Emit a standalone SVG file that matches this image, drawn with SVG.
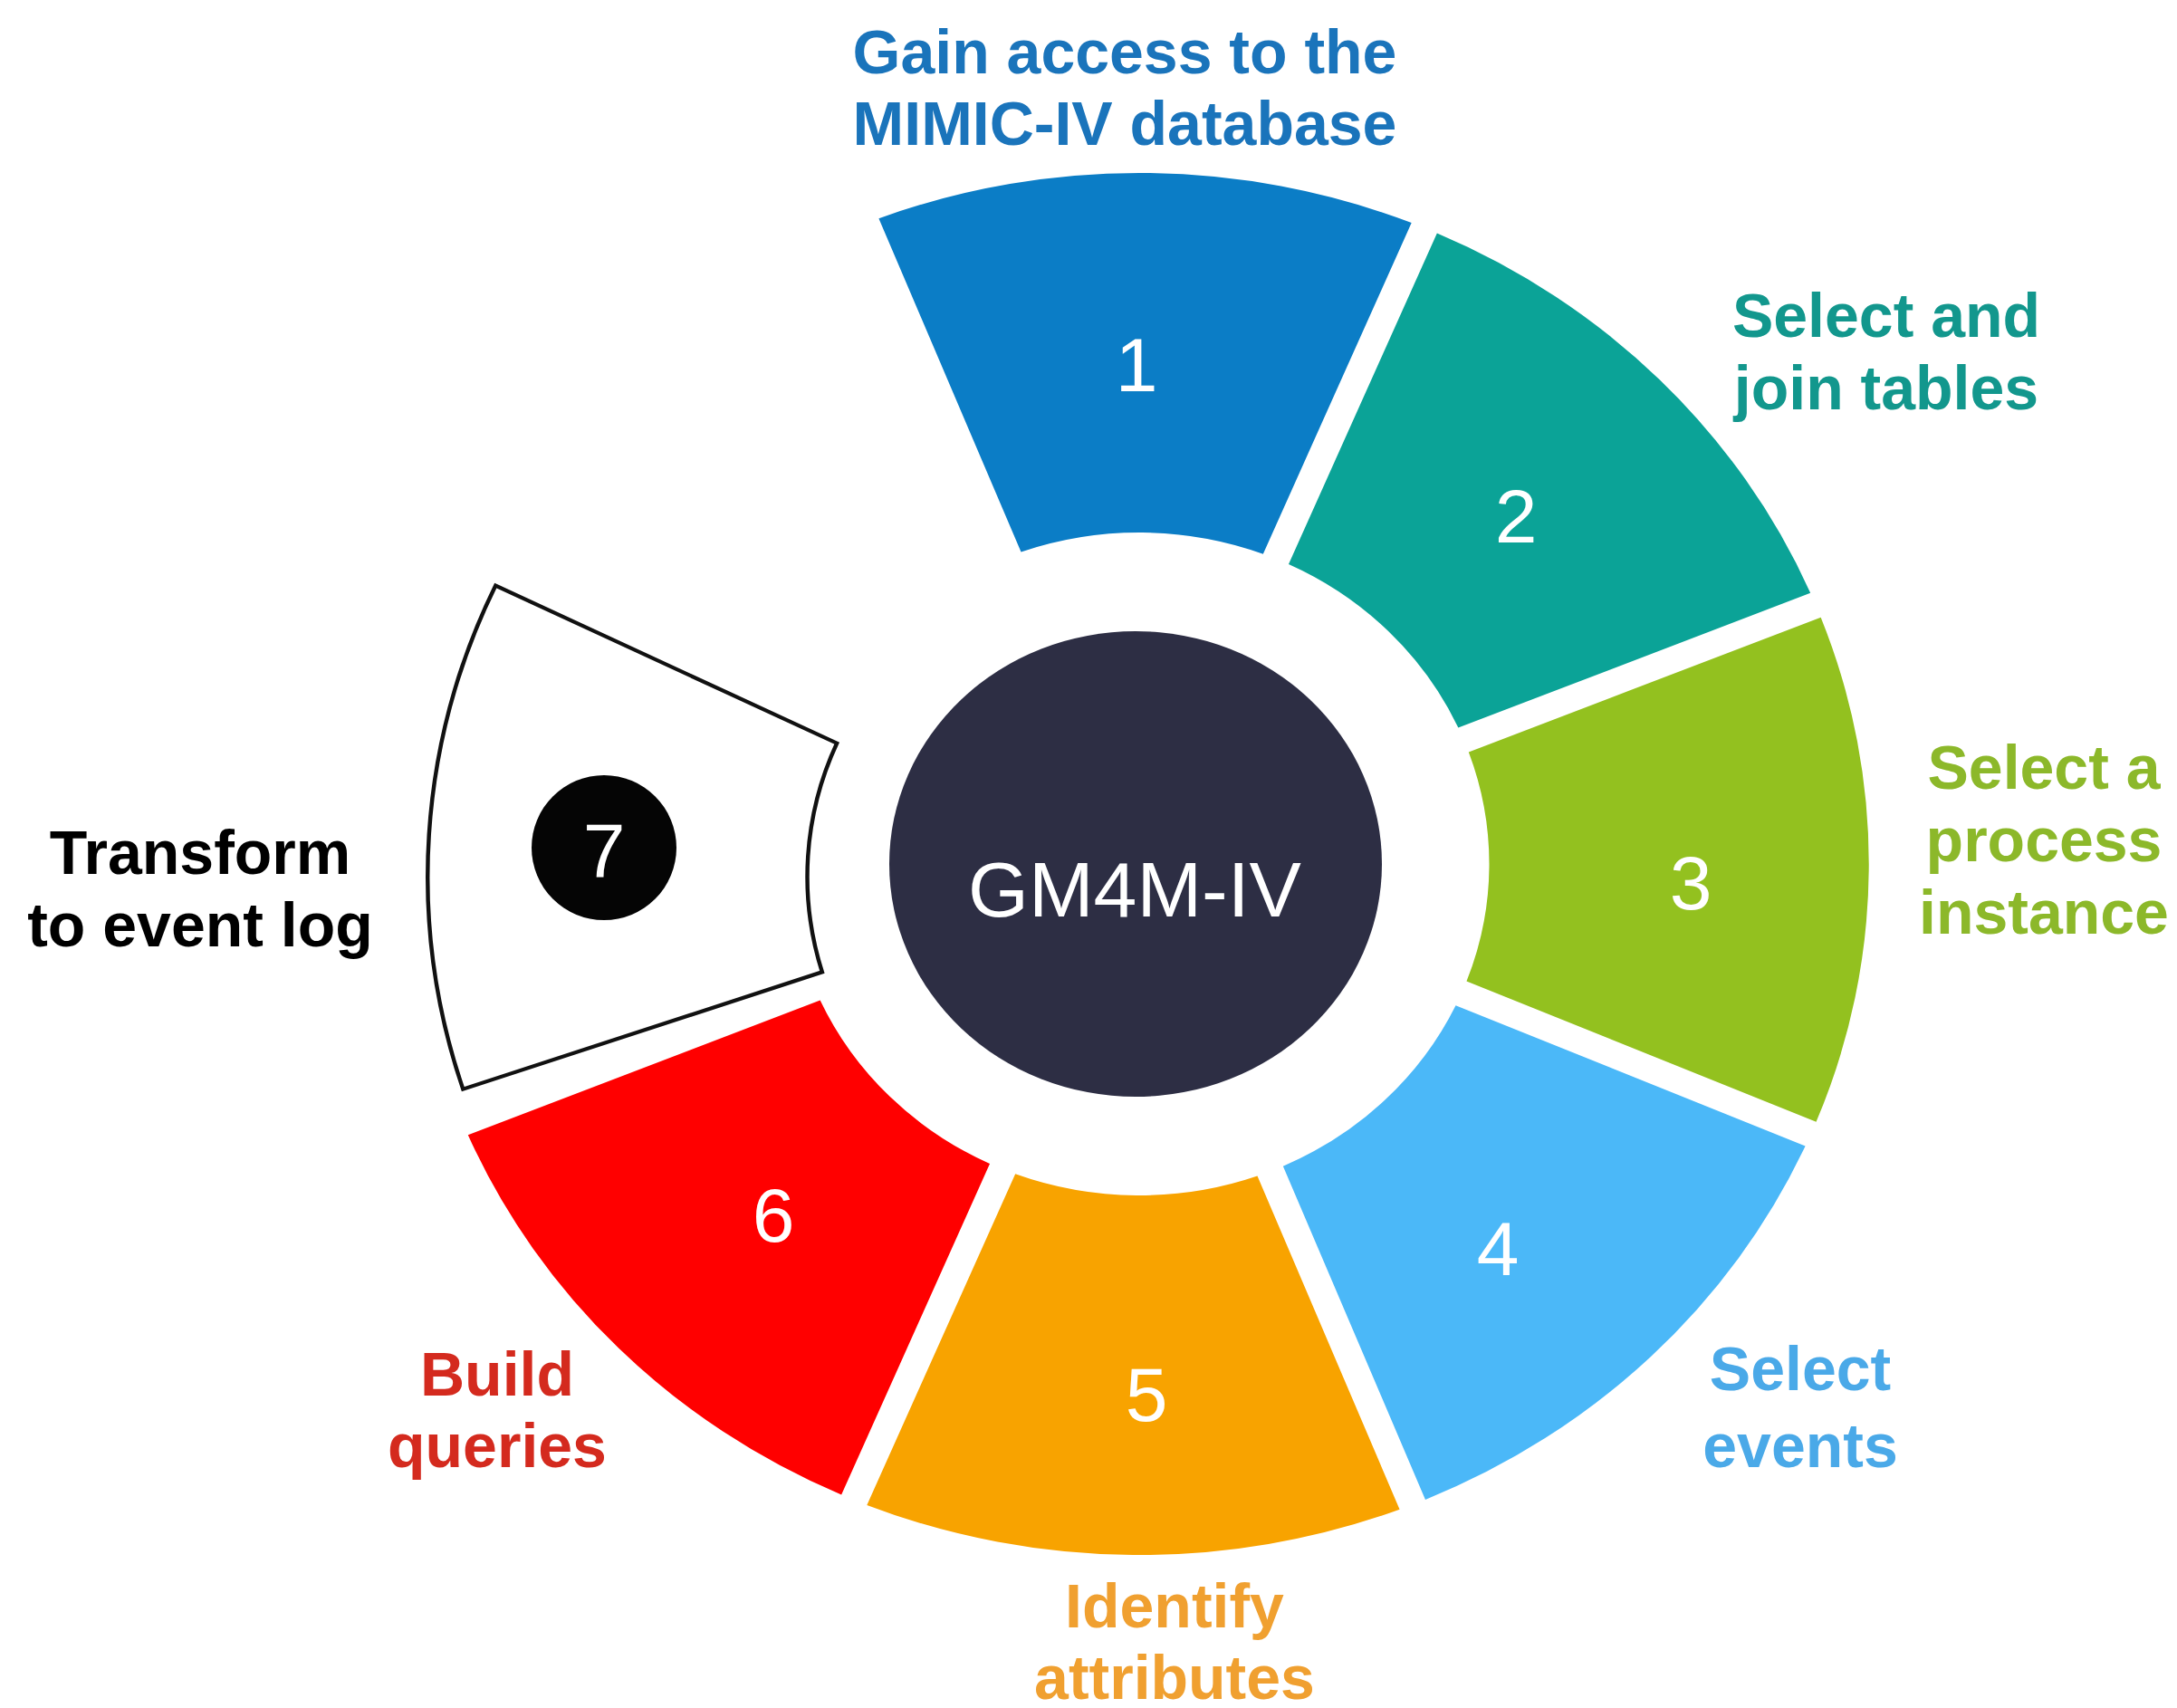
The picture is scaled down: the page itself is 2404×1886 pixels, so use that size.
<svg xmlns="http://www.w3.org/2000/svg" xmlns:xlink="http://www.w3.org/1999/xlink" width="2404" height="1886" viewBox="0 0 2404 1886">
<style>
  .lbl{font-family:"Liberation Sans",Arial,sans-serif;font-weight:bold;font-size:68px;text-anchor:middle}
  .num{font-family:"Liberation Sans",Arial,sans-serif;font-size:84px;fill:#ffffff;text-anchor:middle}
</style>
<defs>
  <path id="sector" d="M -278.54 -710.35 A 763 763 0 0 1 278.54 -710.35 L 126.56 -343.42 A 366 366 0 0 0 -126.56 -343.42 Z"/>
</defs>
<rect width="2404" height="1886" fill="#ffffff"/>
<g id="connectors"/>

<g id="step1">
  <use href="#sector" xlink:href="#sector" transform="translate(1258 954) scale(1.056 1) rotate(0.5)" fill="#0b7dc6"/>
  <text class="num" x="1255" y="432">1</text>
  <text class="lbl" fill="#1a74bb"><tspan x="1242" y="81">Gain access to the</tspan><tspan x="1242" y="160">MIMIC-IV database</tspan></text>
</g>

<g id="step2">
  <use href="#sector" xlink:href="#sector" transform="translate(1258 954) scale(1.056 1) rotate(45.5)" fill="#0ba397"/>
  <text class="num" x="1674" y="599">2</text>
  <text class="lbl" fill="#12978d"><tspan x="2083" y="372">Select and</tspan><tspan x="2083" y="452">join tables</tspan></text>
</g>

<g id="step3">
  <use href="#sector" xlink:href="#sector" transform="translate(1258 954) scale(1.056 1) rotate(90.5)" fill="#93c11f"/>
  <text class="num" x="1867" y="1004">3</text>
  <text class="lbl" fill="#8cb82a"><tspan x="2257" y="871">Select a</tspan><tspan x="2257" y="951">process</tspan><tspan x="2257" y="1031">instance</tspan></text>
</g>

<g id="step4">
  <use href="#sector" xlink:href="#sector" transform="translate(1258 954) scale(1.056 1) rotate(135.5)" fill="#4bb8f8"/>
  <text class="num" x="1654" y="1408">4</text>
  <text class="lbl" fill="#4aa9e8"><tspan x="1988" y="1535">Select</tspan><tspan x="1988" y="1620">events</tspan></text>
</g>

<g id="step5">
  <use href="#sector" xlink:href="#sector" transform="translate(1258 954) scale(1.056 1) rotate(180.5)" fill="#f8a300"/>
  <text class="num" x="1266" y="1569">5</text>
  <text class="lbl" fill="#f0a030"><tspan x="1297" y="1797">Identify</tspan><tspan x="1297" y="1876">attributes</tspan></text>
</g>

<g id="step6">
  <use href="#sector" xlink:href="#sector" transform="translate(1258 954) scale(1.056 1) rotate(225.5)" fill="#ff0000"/>
  <text class="num" x="854" y="1371">6</text>
  <text class="lbl" fill="#d42a1e"><tspan x="549" y="1541">Build</tspan><tspan x="549" y="1620">queries</tspan></text>
</g>

<g id="step7">
  <use href="#sector" xlink:href="#sector" transform="translate(1278 968) scale(1.056 1) rotate(273.5)" fill="#ffffff" stroke="#111111" stroke-width="4.2" vector-effect="non-scaling-stroke"/>
  <circle cx="667" cy="936" r="80" fill="#050505"/>
  <text class="num" x="667" y="968">7</text>
  <text class="lbl" fill="#000000"><tspan x="221" y="965">Transform</tspan><tspan x="221" y="1045">to event log</tspan></text>
</g>

<g id="center">
  <ellipse cx="1254" cy="954" rx="272" ry="257" fill="#2d2e44"/>
  <text x="1253" y="1012" font-family="'Liberation Sans',Arial,sans-serif" font-size="86" fill="#ffffff" text-anchor="middle">GM4M-IV</text>
</g>
</svg>
